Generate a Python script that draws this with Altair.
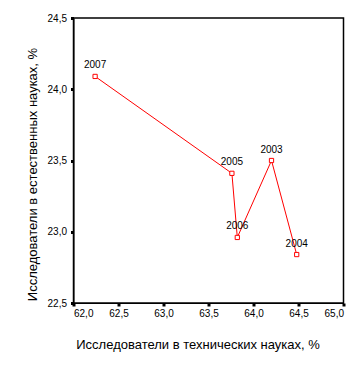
import altair as alt
import pandas as pd

years = ["2003", "2004", "2005", "2006", "2007"]
tech = [64.20, 64.48, 63.76, 63.82, 62.24]
natural = [23.50, 22.84, 23.41, 22.96, 24.09]

df = pd.DataFrame({"year": years, "tech": tech, "nat": natural})

FONT = "Liberation Sans"
lab = "replace(format(datum.value, '.1f'), '.', ',')"

x = alt.X("tech:Q", scale=alt.Scale(domain=[62, 65], nice=False, zero=False),
          axis=alt.Axis(title="Исследователи в технических науках, %",
                        values=[62, 62.5, 63, 63.5, 64, 64.5, 65],
                        labelExpr=lab, grid=False, tickSize=3, tickWidth=3,
                        tickColor="black", domainColor="black", labelColor="black",
                        labelFont=FONT, labelFontSize=10, labelPadding=2,
                        titleFont=FONT, titleFontSize=13, titleFontWeight="normal",
                        titleColor="black", titlePadding=20, titleX=124,
                        titleAlign="center"))
y = alt.Y("nat:Q", scale=alt.Scale(domain=[22.5, 24.5], nice=False, zero=False),
          axis=alt.Axis(title="Исследователи в естественных науках, %",
                        values=[22.5, 23, 23.5, 24, 24.5],
                        labelExpr=lab, grid=False, tickSize=3, tickWidth=3,
                        tickColor="black", domainColor="black", labelColor="black",
                        labelFont=FONT, labelFontSize=10, labelPadding=4,
                        titleFont=FONT, titleFontSize=13, titleFontWeight="normal",
                        titleColor="black", titlePadding=8, titleY=156,
                        titleAlign="center"))

base = alt.Chart(df)
line = base.mark_line(color="#ff0000", strokeWidth=1).encode(x=x, y=y, order="tech:Q")
pts = base.mark_point(shape="square", size=18, filled=True, fill="white",
                      stroke="#ff0000", strokeWidth=1, opacity=1).encode(x=x, y=y)
txt = base.mark_text(dy=-11, font=FONT, fontSize=10, color="black").encode(
    x=x, y=y, text="year:N")

chart = (line + pts + txt).properties(
    width=270, height=285,
    autosize=alt.AutoSizeParams(type="none"),
    padding={"left": 65.5, "top": 10, "right": 12, "bottom": 60},
    background="white",
).configure_view(stroke="black", strokeWidth=1.5)

chart.save("out.html", embed_options={"renderer": "svg", "actions": False})
